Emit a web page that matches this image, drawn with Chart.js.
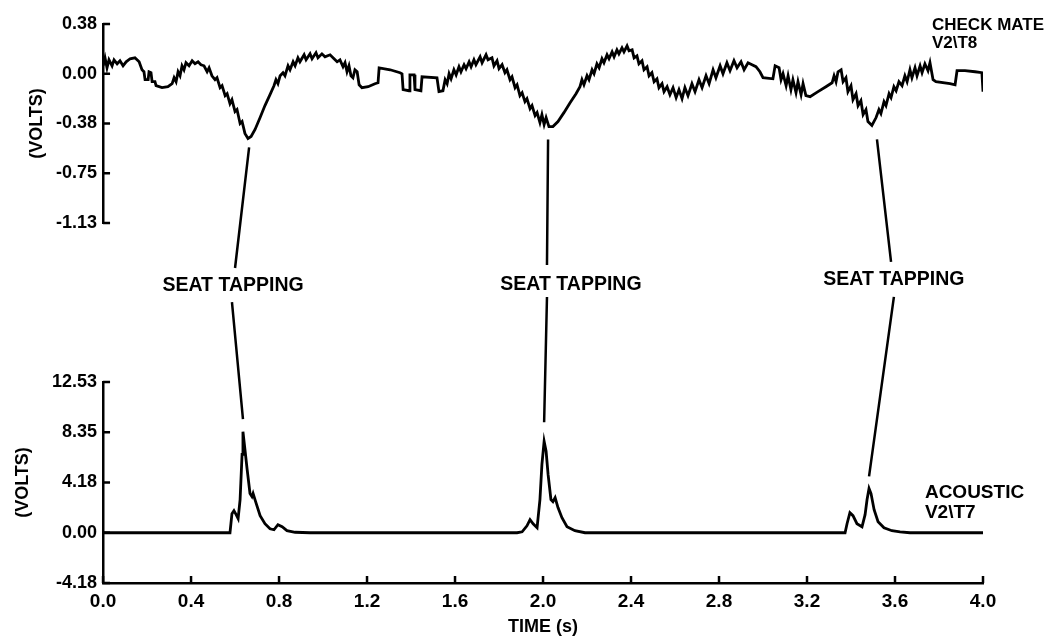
<!DOCTYPE html>
<html>
<head>
<meta charset="utf-8">
<script src="https://cdn.jsdelivr.net/npm/chart.js@4.4.1/dist/chart.umd.min.js"></script>
<style>
  html, body { margin: 0; padding: 0; background: #fff; }
  canvas { display: block; }
</style>
</head>
<body>
<canvas id="chart-seat-tapping" width="1051" height="637"></canvas>
<script>
// CHECK MATE V2\T8 trace: [time (s), volts]
const check_trace = [
  [0.000,0.06],[0.009,0.12],[0.018,0.045],[0.027,0.105],[0.041,0.06],[0.050,0.105],[0.064,0.075],[0.077,0.098],[0.091,0.06],[0.105,0.09],
  [0.123,0.113],[0.145,0.12],[0.164,0.09],[0.177,0.03],[0.186,0.015],[0.191,-0.045],[0.205,-0.045],[0.209,0.015],[0.218,0.008],[0.223,-0.06],
  [0.236,-0.06],[0.241,-0.09],[0.268,-0.105],[0.295,-0.098],[0.314,-0.075],[0.323,-0.03],[0.332,-0.06],[0.341,0.015],[0.350,-0.015],[0.359,0.06],
  [0.368,0.03],[0.377,0.083],[0.391,0.06],[0.405,0.098],[0.418,0.075],[0.432,0.09],[0.445,0.068],[0.459,0.06],
  [0.473,0.015],[0.482,0.045],[0.495,-0.015],[0.509,-0.045],[0.518,-0.03],[0.532,-0.105],[0.541,-0.09],[0.555,-0.165],[0.564,-0.15],[0.577,-0.225],
  [0.586,-0.195],[0.600,-0.285],[0.609,-0.27],[0.623,-0.375],[0.632,-0.36],[0.645,-0.45],[0.659,-0.488],[0.673,-0.473],[0.691,-0.42],[0.714,-0.33],
  [0.736,-0.24],[0.759,-0.158],[0.777,-0.09],[0.786,-0.045],[0.795,-0.075],[0.805,-0.015],[0.818,0.008],[0.827,-0.015],[0.841,0.06],[0.850,0.03],
  [0.864,0.09],[0.873,0.06],[0.886,0.12],[0.895,0.09],[0.914,0.143],[0.923,0.105],[0.941,0.15],[0.950,0.113],[0.968,0.158],[0.977,0.12],
  [0.995,0.15],[1.009,0.128],[1.032,0.143],[1.050,0.113],[1.064,0.09],[1.077,0.105],[1.091,0.053],[1.100,0.083],[1.109,0.015],[1.118,0.06],
  [1.127,-0.015],[1.136,-0.03],[1.145,0.03],[1.155,0.015],[1.164,-0.083],[1.177,-0.105],[1.205,-0.098],[1.236,-0.075],[1.250,-0.068],[1.255,0.045],
  [1.305,0.03],[1.350,0.008],[1.359,0.0],[1.364,-0.12],[1.391,-0.128],[1.395,-0.008],[1.414,-0.008],[1.418,-0.12],[1.445,-0.128],[1.450,-0.023],
  [1.518,-0.03],[1.527,-0.135],[1.545,-0.128],[1.555,-0.045],[1.564,-0.075],[1.573,0.0],[1.582,-0.038],[1.595,0.03],[1.605,-0.008],[1.618,0.053],
  [1.627,0.015],[1.641,0.068],[1.650,0.038],[1.664,0.09],[1.673,0.053],[1.686,0.105],[1.695,0.068],[1.714,0.128],[1.723,0.083],[1.741,0.143],
  [1.750,0.105],[1.768,0.12],[1.777,0.06],[1.791,0.098],[1.800,0.038],[1.814,0.068],[1.827,0.008],[1.836,0.03],[1.850,-0.045],[1.859,-0.023],
  [1.873,-0.105],[1.882,-0.083],[1.895,-0.165],[1.905,-0.143],[1.918,-0.21],[1.927,-0.188],[1.941,-0.263],[1.950,-0.24],[1.964,-0.315],[1.973,-0.293],
  [1.986,-0.368],[1.995,-0.308],[2.005,-0.383],[2.014,-0.33],[2.027,-0.398],[2.045,-0.398],[2.068,-0.36],[2.095,-0.293],[2.123,-0.218],[2.150,-0.15],
  [2.168,-0.098],[2.177,-0.045],[2.186,-0.083],[2.200,-0.015],[2.209,-0.045],[2.223,0.03],[2.232,0.0],[2.245,0.075],[2.255,0.045],[2.268,0.113],
  [2.277,0.083],[2.291,0.143],[2.300,0.113],[2.314,0.165],[2.323,0.128],[2.336,0.18],[2.345,0.15],[2.359,0.195],[2.368,0.165],[2.382,0.21],
  [2.391,0.173],[2.405,0.18],[2.414,0.12],[2.427,0.135],[2.436,0.075],[2.450,0.098],[2.459,0.03],[2.473,0.053],[2.482,-0.015],[2.495,0.008],
  [2.505,-0.06],[2.518,-0.038],[2.527,-0.105],[2.541,-0.075],[2.550,-0.135],[2.564,-0.098],[2.577,-0.158],[2.591,-0.105],[2.605,-0.18],[2.618,-0.12],
  [2.632,-0.188],[2.645,-0.105],[2.659,-0.165],[2.677,-0.075],[2.691,-0.135],[2.709,-0.045],[2.723,-0.105],[2.741,-0.015],[2.755,-0.075],[2.773,0.03],
  [2.786,-0.03],[2.805,0.06],[2.818,0.0],[2.836,0.083],[2.850,0.023],[2.868,0.098],[2.882,0.045],[2.900,0.09],[2.914,0.03],[2.932,0.083],
  [2.950,0.068],[2.968,0.053],[2.986,0.015],[3.000,-0.03],[3.045,-0.038],[3.055,0.06],[3.073,0.045],[3.082,-0.045],[3.091,0.0],[3.105,-0.09],
  [3.114,-0.015],[3.127,-0.12],[3.136,-0.045],[3.150,-0.143],[3.159,-0.06],[3.173,-0.158],[3.182,-0.075],[3.195,-0.165],[3.214,-0.173],[3.250,-0.135],
  [3.286,-0.098],[3.314,-0.068],[3.323,-0.015],[3.332,-0.06],[3.341,0.015],[3.355,0.03],[3.364,-0.06],[3.377,-0.03],[3.386,-0.135],[3.400,-0.09],
  [3.409,-0.195],[3.423,-0.15],[3.432,-0.24],[3.445,-0.203],[3.455,-0.308],[3.468,-0.27],[3.477,-0.36],[3.495,-0.39],[3.514,-0.33],[3.527,-0.27],
  [3.536,-0.3],[3.550,-0.21],[3.559,-0.24],[3.573,-0.15],[3.582,-0.18],[3.595,-0.098],[3.605,-0.128],[3.618,-0.06],[3.632,-0.09],[3.645,-0.015],
  [3.655,-0.06],[3.668,0.03],[3.677,-0.03],[3.691,0.045],[3.700,-0.015],[3.714,0.06],[3.723,0.008],[3.736,0.075],[3.750,0.023],[3.759,0.083],
  [3.773,-0.045],[3.786,-0.06],[3.850,-0.075],[3.873,-0.083],[3.882,0.023],[3.918,0.023],[3.964,0.015],[3.995,0.008],[4.000,-0.135]
];

// ACOUSTIC V2\T7 trace: [time (s), volts]
const acoustic_trace = [
  [0,0],[0.577,0],[0.586,1.59],[0.595,1.84],[0.605,1.5],[0.614,1.17],[0.623,2.76],[0.632,6.52],[0.636,8.4],[0.645,6.93],
  [0.655,5.26],[0.668,3.26],[0.677,3.0],[0.682,3.26],[0.695,2.51],[0.714,1.42],[0.736,0.75],[0.759,0.33],[0.777,0.25],[0.795,0.67],
  [0.814,0.5],[0.836,0.17],[0.873,0.04],[0.941,0],
  [1.882,0],[1.905,0.08],[1.927,0.58],[1.941,1.09],[1.955,0.75],[1.973,0.42],[1.986,2.76],[1.995,5.68],[2.005,7.6],[2.014,6.77],
  [2.023,4.85],[2.036,2.76],[2.045,2.59],[2.055,2.92],[2.068,2.09],[2.086,1.25],[2.109,0.5],[2.145,0.17],[2.191,0],
  [3.373,0],[3.382,0.75],[3.395,1.67],[3.409,1.42],[3.427,0.75],[3.450,0.5],[3.464,1.5],[3.473,2.76],[3.482,3.68],[3.491,3.26],
  [3.505,1.92],[3.523,0.92],[3.550,0.42],[3.586,0.17],[3.623,0.08],[3.668,0],[4.0,0]
];

const time_ticks = [0, 0.4, 0.8, 1.2, 1.6, 2.0, 2.4, 2.8, 3.2, 3.6, 4.0];
const time_tick_labels = ['0.0', '0.4', '0.8', '1.2', '1.6', '2.0', '2.4', '2.8', '3.2', '3.6', '4.0'];
const check_ticks = [-1.125, -0.75, -0.375, 0, 0.375];
const check_tick_labels = ['-1.13', '-0.75', '-0.38', '0.00', '0.38'];
const acoustic_ticks = [-4.177, 0, 4.177, 8.353, 12.53];
const acoustic_tick_labels = ['-4.18', '0.00', '4.18', '8.35', '12.53'];

// seat tapping markers: line from the check mate dip, label in the gap, line down to the acoustic peak
const tap_dip_time = [0.664, 2.023, 3.518];
const tap_dip_volts = [-0.555, -0.495, -0.495];
const tap_upper_time = [0.600, 2.018, 3.582];
const tap_upper_level = [0.717, 0.736, 0.755];
const tap_label_time = [0.591, 2.127, 3.595];
const tap_label_level = [0.604, 0.610, 0.642];
const tap_lower_time = [0.586, 2.018, 3.595];
const tap_lower_level = [0.503, 0.535, 0.535];
const tap_peak_time = [0.636, 2.005, 3.482];
const tap_peak_volts = [9.44, 9.19, 4.68];

const check_name = ['CHECK MATE', 'V2\\T8'];
const check_name_volts = [0.3675, 0.2325];
const acoustic_name = ['ACOUSTIC', 'V2\\T7'];
const acoustic_name_volts = [3.34, 1.67];

const font_family = "'Liberation Sans', Arial, sans-serif";
Chart.defaults.font.family = font_family;
Chart.defaults.color = '#000';

// tick marks on these axes point into the plot
const inward_ticks = {
    id: 'inwardTicks',
    afterDraw(chart) {
        const ctx = chart.ctx;
        const x = chart.scales.x;
        ctx.save();
        ctx.strokeStyle = '#000';
        ctx.lineWidth = 2.5;
        ctx.beginPath();
        time_ticks.forEach(v => {
            const px = x.getPixelForValue(v);
            ctx.moveTo(px, x.top);
            ctx.lineTo(px, x.top - 7);
        });
        [['yCheck', check_ticks], ['yAcoustic', acoustic_ticks]].forEach(([id, ticks]) => {
            const s = chart.scales[id];
            ticks.forEach(v => {
                const py = s.getPixelForValue(v);
                ctx.moveTo(s.right, py);
                ctx.lineTo(s.right + 7, py);
            });
        });
        ctx.stroke();
        ctx.restore();
    }
};

const seat_tapping = {
    id: 'seatTapping',
    afterDatasetsDraw(chart) {
        const {ctx, scales: {x, yCheck, yGap, yAcoustic}} = chart;
        ctx.save();
        ctx.strokeStyle = '#000';
        ctx.lineWidth = 2.5;
        tap_dip_time.forEach((t, i) => {
            ctx.beginPath();
            ctx.moveTo(x.getPixelForValue(t), yCheck.getPixelForValue(tap_dip_volts[i]));
            ctx.lineTo(x.getPixelForValue(tap_upper_time[i]), yGap.getPixelForValue(tap_upper_level[i]));
            ctx.moveTo(x.getPixelForValue(tap_lower_time[i]), yGap.getPixelForValue(tap_lower_level[i]));
            ctx.lineTo(x.getPixelForValue(tap_peak_time[i]), yAcoustic.getPixelForValue(tap_peak_volts[i]));
            ctx.stroke();
        });

        ctx.fillStyle = '#000';
        ctx.font = 'bold 19.5px ' + font_family;
        ctx.textAlign = 'center';
        ctx.textBaseline = 'middle';
        tap_label_time.forEach((t, i) => {
            ctx.fillText('SEAT TAPPING', x.getPixelForValue(t), yGap.getPixelForValue(tap_label_level[i]));
        });

        // trace names at the right end
        ctx.textAlign = 'left';
        ctx.font = 'bold 17px ' + font_family;
        check_name.forEach((txt, i) => {
            ctx.fillText(txt, x.getPixelForValue(3.768), yCheck.getPixelForValue(check_name_volts[i]));
        });
        ctx.font = 'bold 19px ' + font_family;
        acoustic_name.forEach((txt, i) => {
            ctx.fillText(txt, x.getPixelForValue(3.736), yAcoustic.getPixelForValue(acoustic_name_volts[i]));
        });
        ctx.restore();
    }
};

function fixed_ticks(values) {
    return scale => {
        scale.ticks = values.map(v => ({value: v}));
    };
}

const axis_border = {display: true, color: '#000', width: 2.5};
const y_tick_font = {size: 18, weight: 'bold'};
const x_tick_font = {size: 19, weight: 'bold', lineHeight: 1};
const title_font = {size: 18, weight: 'bold', lineHeight: 1};

const config_seat_tapping = {
    type: 'line',
    data: {
        datasets: [
            {
                label: 'CHECK MATE V2\\T8',
                data: check_trace.map(p => ({x: p[0], y: p[1]})),
                yAxisID: 'yCheck',
                borderColor: '#000',
                borderWidth: 2.8,
                pointRadius: 0,
                tension: 0
            },
            {
                label: 'ACOUSTIC V2\\T7',
                data: acoustic_trace.map(p => ({x: p[0], y: p[1]})),
                yAxisID: 'yAcoustic',
                borderColor: '#000',
                borderWidth: 2.8,
                pointRadius: 0,
                tension: 0
            }
        ]
    },
    options: {
        responsive: false,
        animation: false,
        events: [],
        layout: {
            padding: {left: 12, right: 68, top: 24, bottom: 0}
        },
        plugins: {
            legend: {display: false},
            tooltip: {enabled: false}
        },
        scales: {
            x: {
                type: 'linear',
                min: 0,
                max: 4,
                afterBuildTicks: fixed_ticks(time_ticks),
                ticks: {
                    font: x_tick_font,
                    padding: 9,
                    maxRotation: 0,
                    callback: (value, index) => time_tick_labels[index]
                },
                grid: {drawOnChartArea: false, drawTicks: false},
                border: axis_border,
                title: {display: true, text: 'TIME (s)', font: {size: 18, weight: 'bold', lineHeight: '14px'}, padding: {top: 0, bottom: 3}}
            },
            yAcoustic: {
                type: 'linear',
                position: 'left',
                stack: 'panels',
                stackWeight: 201,
                weight: 1,
                min: -4.177,
                max: 12.53,
                afterBuildTicks: fixed_ticks(acoustic_ticks),
                ticks: {
                    font: y_tick_font,
                    padding: 6,
                    callback: (value, index) => acoustic_tick_labels[index]
                },
                grid: {drawOnChartArea: false, drawTicks: false},
                border: axis_border,
                title: {display: true, text: '(VOLTS)', font: title_font, padding: {top: 2, bottom: 14}}
            },
            yGap: {
                type: 'linear',
                position: 'left',
                stack: 'panels',
                stackWeight: 159,
                weight: 2,
                min: 0,
                max: 1,
                ticks: {display: false},
                grid: {display: false, drawTicks: false},
                border: {display: false}
            },
            yCheck: {
                type: 'linear',
                position: 'left',
                stack: 'panels',
                stackWeight: 199,
                weight: 3,
                min: -1.125,
                max: 0.375,
                afterBuildTicks: fixed_ticks(check_ticks),
                ticks: {
                    font: y_tick_font,
                    padding: 6,
                    callback: (value, index) => check_tick_labels[index]
                },
                grid: {drawOnChartArea: false, drawTicks: false},
                border: axis_border,
                title: {display: true, text: '(VOLTS)', font: title_font, padding: {top: 16, bottom: 0}}
            }
        }
    },
    plugins: [inward_ticks, seat_tapping]
};

var context_chart_seat_tapping = document.getElementById('chart-seat-tapping');
var chart_seat_tapping = new Chart(context_chart_seat_tapping, config_seat_tapping);
</script>
</body>
</html>
